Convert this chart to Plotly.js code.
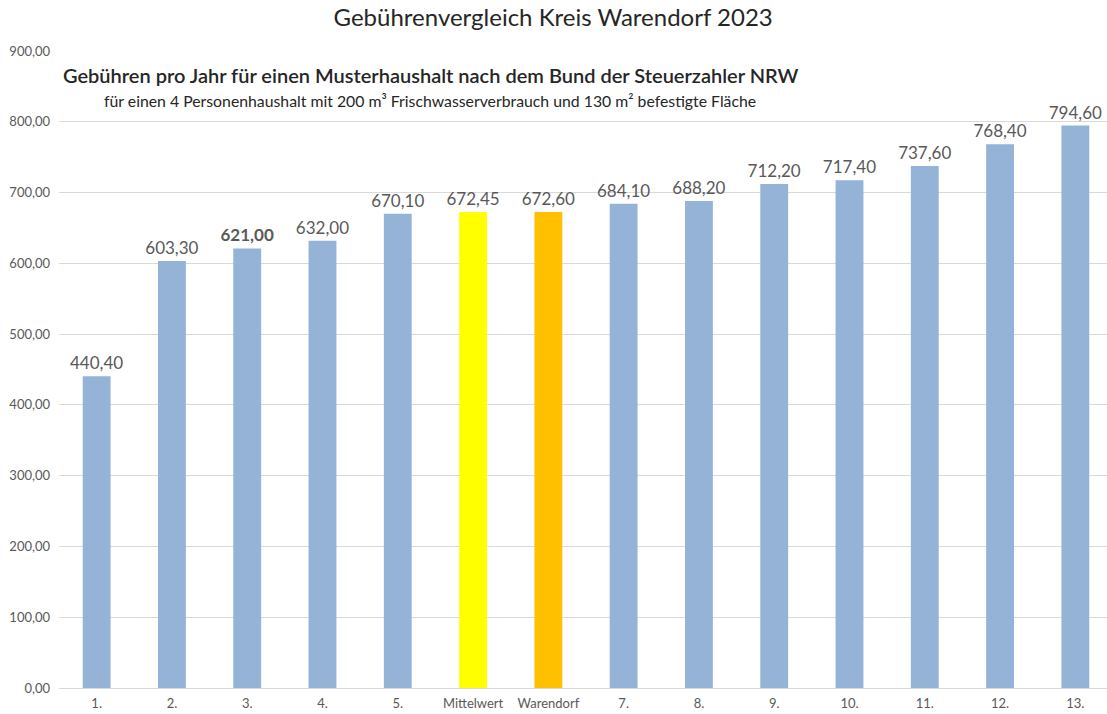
<!DOCTYPE html>
<html><head><meta charset="utf-8">
<script src="https://cdn.plot.ly/plotly-3.0.1.min.js"></script>
<style>html,body{margin:0;padding:0;overflow:hidden;background:#fff}</style>
</head><body><div id="chart"></div>
<script>
const categories = ["1.","2.","3.","4.","5.","Mittelwert","Warendorf","7.","8.","9.","10.","11.","12.","13."];
const values = [440.40, 603.30, 621.00, 632.00, 670.10, 672.45, 672.60, 684.10, 688.20, 712.20, 717.40, 737.60, 768.40, 794.60];
const barColors = ["#95B3D7","#95B3D7","#95B3D7","#95B3D7","#95B3D7","#FFFF00","#FFC000","#95B3D7","#95B3D7","#95B3D7","#95B3D7","#95B3D7","#95B3D7","#95B3D7"];
const boldIndex = [2];
const yTicks = [0,100,200,300,400,500,600,700,800,900];

const FONT = "Lato, 'Open Sans', sans-serif";
const fmt = v => v.toFixed(2).replace('.', ',');
const labels = values.map((v,i) => boldIndex.includes(i) ? '<b>' + fmt(v) + '</b>' : fmt(v));

const trace = {
  type: 'bar', x: categories, y: values,
  marker: {color: barColors},
  text: labels, textposition: 'outside', cliponaxis: false, constraintext: 'none',
  textfont: {family: FONT, size: 17, color: '#595959'},
  hoverinfo: 'x+y', width: 0.37
};
const layout = {
  width: 1113, height: 714,
  margin: {l: 59, r: 0, t: 51, b: 26},
  paper_bgcolor: '#fff', plot_bgcolor: '#fff',
  separators: ', ',
  showlegend: false,
  title: {text: 'Gebührenvergleich Kreis Warendorf 2023', x: 0.497, xanchor: 'center', y: 0.975, yanchor: 'middle',
          font: {family: FONT, size: 24, color: '#262626'}},
  xaxis: {type: 'category', tickfont: {family: FONT, size: 13, color: '#595959'}, showline: true, linecolor: '#D9D9D9',
          ticks: '', showgrid: false, ticklabelstandoff: 3},
  yaxis: {range: [0, 900], tickvals: yTicks, ticktext: yTicks.map(fmt), showgrid: true, gridcolor: '#D9D9D9',
          zeroline: false, tickfont: {family: FONT, size: 13, color: '#595959'}, ticks: '', ticklabelstandoff: 8},
  annotations: [
    {text: 'Gebühren pro Jahr für einen Musterhaushalt nach dem Bund der Steuerzahler NRW', xref: 'paper', yref: 'paper',
     x: 0.002, y: 0.962, xanchor: 'left', yanchor: 'middle', showarrow: false,
     font: {family: FONT, size: 20, color: '#262626', weight: 600}},
    {text: 'für einen 4 Personenhaushalt mit 200 m³ Frischwasserverbrauch und 130 m² befestigte Fläche', xref: 'paper', yref: 'paper',
     x: 0.041, y: 0.923, xanchor: 'left', yanchor: 'middle', showarrow: false,
     font: {family: FONT, size: 15.8, color: '#262626'}}
  ]
};
Plotly.newPlot('chart', [trace], layout, {displayModeBar: false, responsive: false});
</script></body></html>
